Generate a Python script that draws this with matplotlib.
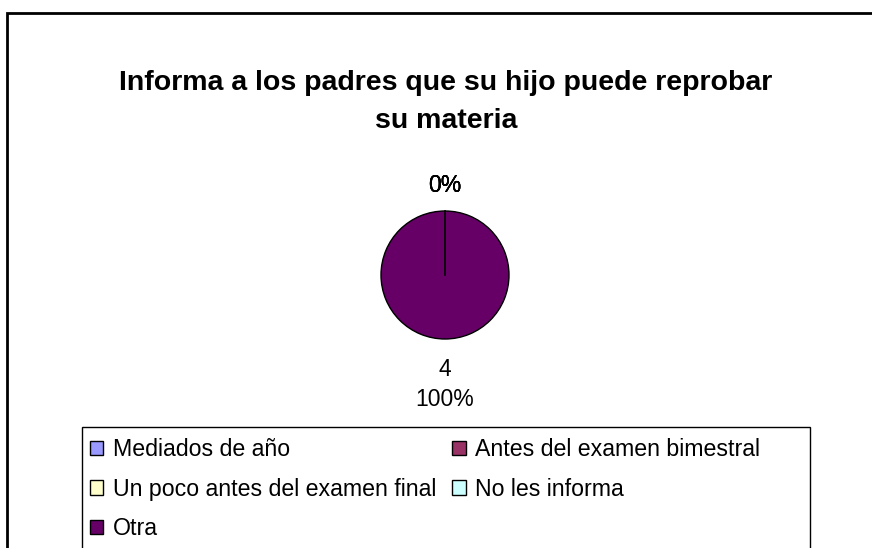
import matplotlib
matplotlib.use("Agg")
import matplotlib.pyplot as plt
from matplotlib.patches import Rectangle, Patch
import numpy as np

plt.rcParams['font.family'] = ['Liberation Sans', 'DejaVu Sans']

title = "Informa a los padres que su hijo puede reprobar\nsu materia"
categories = ["Mediados de año", "Antes del examen bimestral",
              "Un poco antes del examen final", "No les informa", "Otra"]
values = [0, 0, 0, 0, 4]
colors = ["#9999FF", "#993366", "#FFFFCC", "#CCFFFF", "#660066"]

W, H = 872, 548
fig = plt.figure(figsize=(W / 100, H / 100), dpi=100)

# outer chart frame
fig.patches.append(Rectangle((7 / W, -0.1), 1.0, 1 - 13 / H + 0.1,
                             transform=fig.transFigure, fill=False,
                             edgecolor="black", linewidth=2))

fig.text(446 / W, 1 - 102 / H, title, ha="center", va="center",
         fontsize=20.5, fontweight="bold", linespacing=1.6)

# pie axes: center (445,275), radius 64
cx, cy, r = 445, 275, 64
ax = fig.add_axes([(cx - 2 * r) / W, 1 - (cy + 2 * r) / H, 4 * r / W, 4 * r / H])
wedges, _ = ax.pie(values, colors=colors, startangle=90, counterclock=False,
                   radius=1.0, wedgeprops=dict(edgecolor="black", linewidth=1.0))
ax.set_xlim(-2, 2)
ax.set_ylim(-2, 2)
ax.set_aspect("equal")
ax.axis("off")

# slice boundary line of the zero-width slices
th = np.deg2rad(wedges[0].theta1)
ax.plot([0, np.cos(th)], [0, np.sin(th)], color="black", linewidth=1.2)

total = sum(values)
for w, v in zip(wedges, values):
    ang = np.deg2rad((w.theta1 + w.theta2) / 2)
    pct = round(100 * v / total)
    if v == 0:
        d = (cy - 185.5) / r
        ax.text(d * np.cos(ang), d * np.sin(ang), f"{pct}%", ha="center",
                va="center", fontsize=16.5)
    else:
        d = (369 - cy) / r
        ax.text(d * np.cos(ang), d * np.sin(ang), f"{v}", ha="center",
                va="center", fontsize=16.5, clip_on=False)
        d2 = (399 - cy) / r
        ax.text(d2 * np.cos(ang), d2 * np.sin(ang), f"{pct}%", ha="center",
                va="center", fontsize=16.5, clip_on=False)

# legend box
fig.patches.append(Rectangle((82 / W, -0.1), (810 - 82) / W, 1 - 427 / H + 0.1,
                             transform=fig.transFigure, fill=False,
                             edgecolor="black", linewidth=1))
handles = [Patch(facecolor=c, edgecolor="black", linewidth=1.0, label=l)
           for c, l in zip(colors, categories)]
order = [0, 2, 4, 1, 3]
leg = fig.legend([handles[i] for i in order], [categories[i] for i in order],
                 ncol=2, loc="upper left", bbox_to_anchor=(90 / W, 1 - 438 / H),
                 frameon=False, fontsize=16.7, handlelength=0.58, handleheight=0.58,
                 handletextpad=0.4, columnspacing=0.7, labelspacing=0.72,
                 borderpad=0, borderaxespad=0)

fig.savefig("out.png", dpi=100)
